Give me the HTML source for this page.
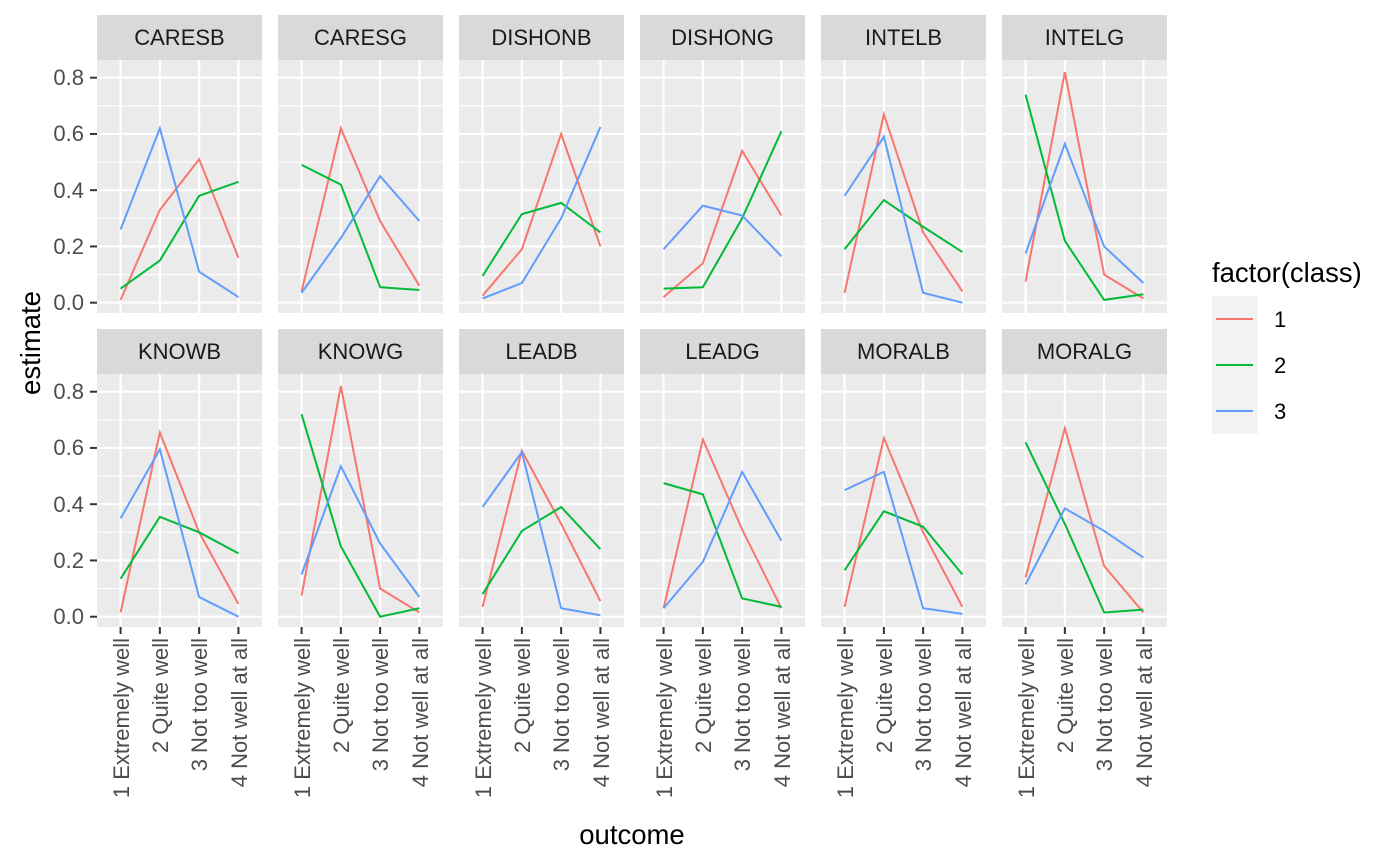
<!DOCTYPE html>
<html><head><meta charset="utf-8"><style>
body{margin:0;background:#fff}
svg{display:block;font-family:"Liberation Sans",sans-serif}
.st{font-size:22px;fill:#1a1a1a;text-anchor:middle}
.yt{font-size:22px;fill:#4d4d4d;text-anchor:end}
.xt{font-size:22px;fill:#4d4d4d;text-anchor:end}
</style></head><body>
<svg id="s" width="1400" height="866" viewBox="0 0 1400 866">
<g id="panels"></g>
<g id="strips">
<text class="st" x="179.5" y="45">CARESB</text>
<text class="st" x="360.5" y="45">CARESG</text>
<text class="st" x="541.5" y="45">DISHONB</text>
<text class="st" x="722.5" y="45">DISHONG</text>
<text class="st" x="903.5" y="45">INTELB</text>
<text class="st" x="1084.5" y="45">INTELG</text>
<text class="st" x="179.5" y="359">KNOWB</text>
<text class="st" x="360.5" y="359">KNOWG</text>
<text class="st" x="541.5" y="359">LEADB</text>
<text class="st" x="722.5" y="359">LEADG</text>
<text class="st" x="903.5" y="359">MORALB</text>
<text class="st" x="1084.5" y="359">MORALG</text>
</g>
<g>
<text class="yt" x="84" y="85">0.8</text>
<text class="yt" x="84" y="141">0.6</text>
<text class="yt" x="84" y="198">0.4</text>
<text class="yt" x="84" y="254">0.2</text>
<text class="yt" x="84" y="310">0.0</text>
<text class="yt" x="84" y="399">0.8</text>
<text class="yt" x="84" y="455">0.6</text>
<text class="yt" x="84" y="512">0.4</text>
<text class="yt" x="84" y="568">0.2</text>
<text class="yt" x="84" y="624">0.0</text>
</g>
<g id="xl">
<text class="xt" transform="translate(129,638) rotate(-90)">1 Extremely well</text>
<text class="xt" transform="translate(168,638) rotate(-90)">2 Quite well</text>
<text class="xt" transform="translate(207,638) rotate(-90)">3 Not too well</text>
<text class="xt" transform="translate(247,638) rotate(-90)">4 Not well at all</text>
<text class="xt" transform="translate(310,638) rotate(-90)">1 Extremely well</text>
<text class="xt" transform="translate(349,638) rotate(-90)">2 Quite well</text>
<text class="xt" transform="translate(388,638) rotate(-90)">3 Not too well</text>
<text class="xt" transform="translate(428,638) rotate(-90)">4 Not well at all</text>
<text class="xt" transform="translate(491,638) rotate(-90)">1 Extremely well</text>
<text class="xt" transform="translate(530,638) rotate(-90)">2 Quite well</text>
<text class="xt" transform="translate(569,638) rotate(-90)">3 Not too well</text>
<text class="xt" transform="translate(609,638) rotate(-90)">4 Not well at all</text>
<text class="xt" transform="translate(672,638) rotate(-90)">1 Extremely well</text>
<text class="xt" transform="translate(711,638) rotate(-90)">2 Quite well</text>
<text class="xt" transform="translate(750,638) rotate(-90)">3 Not too well</text>
<text class="xt" transform="translate(790,638) rotate(-90)">4 Not well at all</text>
<text class="xt" transform="translate(853,638) rotate(-90)">1 Extremely well</text>
<text class="xt" transform="translate(892,638) rotate(-90)">2 Quite well</text>
<text class="xt" transform="translate(931,638) rotate(-90)">3 Not too well</text>
<text class="xt" transform="translate(971,638) rotate(-90)">4 Not well at all</text>
<text class="xt" transform="translate(1034,638) rotate(-90)">1 Extremely well</text>
<text class="xt" transform="translate(1073,638) rotate(-90)">2 Quite well</text>
<text class="xt" transform="translate(1112,638) rotate(-90)">3 Not too well</text>
<text class="xt" transform="translate(1152,638) rotate(-90)">4 Not well at all</text>
</g>
<text x="632" y="844" font-size="27.5" text-anchor="middle" fill="#000">outcome</text>
<text transform="translate(40,343) rotate(-90)" font-size="27.5" text-anchor="middle" fill="#000">estimate</text>
<text x="1212" y="282" font-size="27.5" fill="#000">factor(class)</text>
<rect x="1212" y="296" width="46" height="138" fill="#f2f2f2"/>
<line x1="1216" x2="1253" y1="319" y2="319" stroke="#F8766D" stroke-width="2"/>
<line x1="1216" x2="1253" y1="365" y2="365" stroke="#00BA38" stroke-width="2"/>
<line x1="1216" x2="1253" y1="411" y2="411" stroke="#619CFF" stroke-width="2"/>
<text x="1274" y="327" font-size="22" fill="#000">1</text>
<text x="1274" y="373" font-size="22" fill="#000">2</text>
<text x="1274" y="419" font-size="22" fill="#000">3</text>
</svg>
<script>
var D=[
[[.01,.33,.51,.16],[.05,.15,.38,.43],[.26,.62,.11,.02]],
[[.04,.62,.29,.06],[.49,.42,.055,.045],[.035,.23,.45,.29]],
[[.025,.19,.6,.2],[.095,.315,.355,.25],[.015,.07,.3,.625]],
[[.02,.14,.54,.31],[.05,.055,.3,.61],[.19,.345,.31,.165]],
[[.035,.67,.25,.04],[.19,.365,.27,.18],[.38,.59,.035,0]],
[[.075,.82,.1,.015],[.74,.22,.01,.03],[.175,.565,.2,.07]],
[[.015,.655,.3,.045],[.135,.355,.3,.225],[.35,.595,.07,0]],
[[.075,.82,.1,.015],[.72,.25,0,.03],[.15,.535,.26,.07]],
[[.035,.59,.33,.055],[.08,.305,.39,.24],[.39,.585,.03,.005]],
[[.03,.63,.31,.03],[.475,.435,.065,.035],[.03,.195,.515,.27]],
[[.035,.635,.3,.035],[.165,.375,.32,.15],[.45,.515,.03,.01]],
[[.14,.67,.18,.015],[.62,.33,.015,.025],[.115,.385,.305,.21]]];
var C=["#F8766D","#00BA38","#619CFF"],h="";
for(var p=0;p<12;p++){var c=p%6,r=p<6?0:1,L=97+c*181,W=165,T=r?374:60,B=r?627:313,Z=r?616.7:302.7,S=r?329:15;
h+='<rect x="'+L+'" y="'+S+'" width="'+W+'" height="45" fill="#d9d9d9"/>';
h+='<rect x="'+L+'" y="'+T+'" width="'+W+'" height="'+(B-T)+'" fill="#ebebeb"/>';
for(var v=0.1;v<0.85;v+=0.2){var y=Z-v*281.25;h+='<line x1="'+L+'" x2="'+(L+W)+'" y1="'+y+'" y2="'+y+'" stroke="#fff" stroke-width="1.1"/>';}
for(var v=0;v<=4;v++){var y=Z-v*0.2*281.25;h+='<line x1="'+L+'" x2="'+(L+W)+'" y1="'+y+'" y2="'+y+'" stroke="#fff" stroke-width="2.2"/>';if(c==0)h+='<line x1="90" x2="97" y1="'+y+'" y2="'+y+'" stroke="#333" stroke-width="2"/>';}
var X=[];for(var k=0;k<4;k++){X.push(L+(0.6+k)*W/4.2);h+='<line x1="'+X[k]+'" x2="'+X[k]+'" y1="'+T+'" y2="'+B+'" stroke="#fff" stroke-width="2.2"/>';if(r)h+='<line x1="'+X[k]+'" x2="'+X[k]+'" y1="627" y2="634" stroke="#333" stroke-width="2"/>';}
for(var s=0;s<3;s++){var pts=D[p][s].map(function(v,k){return X[k]+","+(Z-v*281.25)}).join(" ");h+='<polyline points="'+pts+'" fill="none" stroke="'+C[s]+'" stroke-width="2"/>';}}
document.getElementById("panels").innerHTML=h;
</script>
</body></html>
